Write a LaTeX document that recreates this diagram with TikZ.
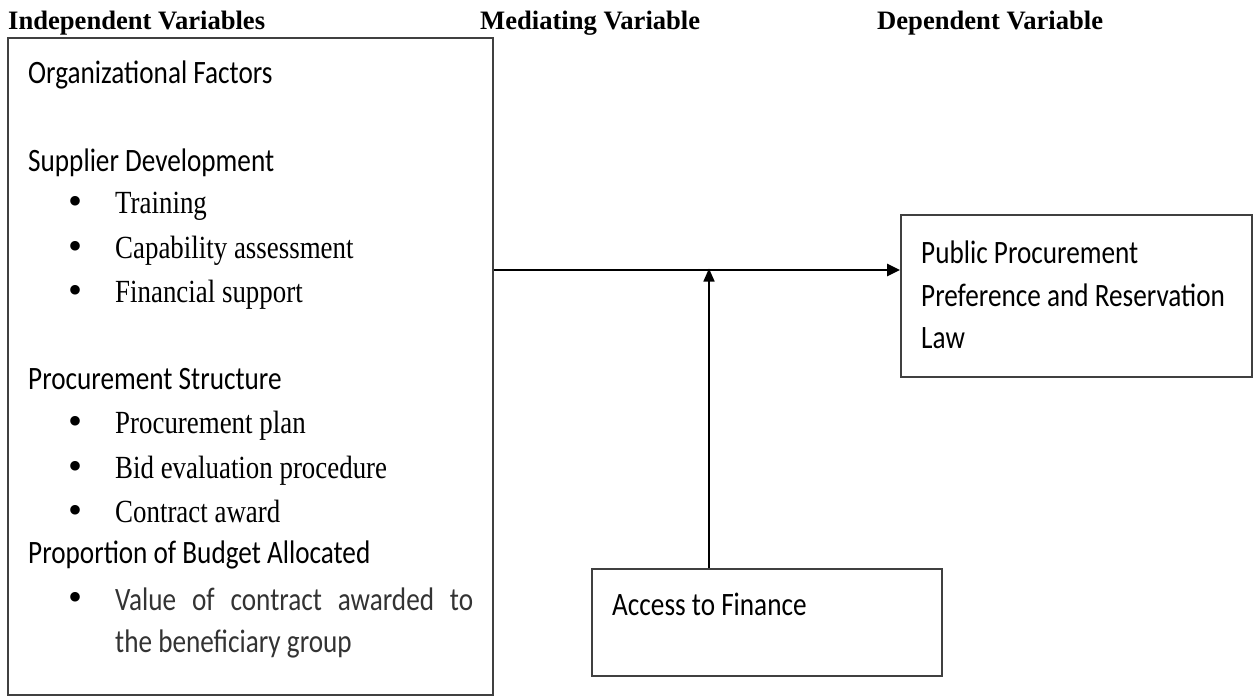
\documentclass[tikz,border=0pt]{standalone}
\usepackage{fontspec}
\usepackage{graphicx}
\setmainfont{Liberation Serif}
\newfontfamily\carl{Carlito}
\usetikzlibrary{arrows.meta}
\newcommand\ys[1]{\scalebox{1}[1.2]{#1}}
\begin{document}
\begin{tikzpicture}[x=1pt,y=-1pt,
  box/.style={draw=black!75, line width=2pt, inner sep=0},
  hd/.style={anchor=base west, inner sep=0, font=\fontsize{26.6}{30}\selectfont\bfseries},
  sf/.style={anchor=base west, inner sep=0, font=\carl\fontsize{27.2}{32}\selectfont},
  rm/.style={anchor=base west, inner sep=0, font=\fontsize{26.9}{32}\selectfont},
  bul/.style={anchor=center, inner sep=0, font=\fontsize{40}{40}\selectfont},
  arrmain/.style={-{Triangle[length=13pt,width=12pt]}, line width=2.8pt},
  arrmed/.style={-{Triangle[length=13pt,width=11pt]}, line width=1.6pt}]
\useasboundingbox (0,0) rectangle (1257,696);

% headings
\node[hd] (h1) at (8,29) {Independent Variables};
\node[hd] (h2) at (480,29) {Mediating Variable};
\node[hd] (h3) at (877,29) {Dependent Variable};

% boxes
\node[box, minimum width=485pt, minimum height=657pt] (left) at (250.5,366.5) {};
\node[box, minimum width=351pt, minimum height=162pt] (right) at (1076.5,296) {};
\node[box, minimum width=350pt, minimum height=107pt] (acc) at (767,622.5) {};

% left box text
\node[sf] (t1) at (28,83) {\ys{Organizational Factors}};
\node[sf] (t2) at (28,171) {\ys{Supplier Development}};
\node[bul] (b1) at (76,205) {•};
\node[rm] (t3) at (115,213) {\ys{Training}};
\node[bul] (b2) at (76,250) {•};
\node[rm] (t4) at (115,258) {\ys{Capability assessment}};
\node[bul] (b3) at (76,294) {•};
\node[rm] (t5) at (115,302) {\ys{Financial support}};
\node[sf] (t6) at (28,389) {\ys{Procurement Structure}};
\node[bul] (b4) at (76,425) {•};
\node[rm] (t7) at (115,433) {\ys{Procurement plan}};
\node[bul] (b5) at (76,470) {•};
\node[rm] (t8) at (115,478) {\ys{Bid evaluation procedure}};
\node[bul] (b6) at (76,514) {•};
\node[rm] (t9) at (115,522) {\ys{Contract award}};
\node[sf] (t10) at (28,563) {\ys{Proportion of Budget Allocated}};
\node[bul] (b7) at (76,601) {•};
\node[sf, text=black!80] (t11) at (115,610) {\ys{\makebox[358pt][s]{Value of contract awarded to}}};
\node[sf, text=black!80] (t12) at (115,652) {\ys{the beneficiary group}};

% right box text
\node[sf] (r1) at (921,263) {\ys{Public Procurement}};
\node[sf] (r2) at (921,306) {\ys{Preference and Reservation}};
\node[sf] (r3) at (921,348) {\ys{Law}};

% access box text
\node[sf] (a1) at (612,615) {\ys{Access to Finance}};

% connectors
\coordinate (j) at (709,270);
\draw[arrmain] (left.east |- j) -- (right.west |- j);
\draw[arrmed] (j |- acc.north) -- ([yshift=1.5pt]j);
\end{tikzpicture}
\end{document}
